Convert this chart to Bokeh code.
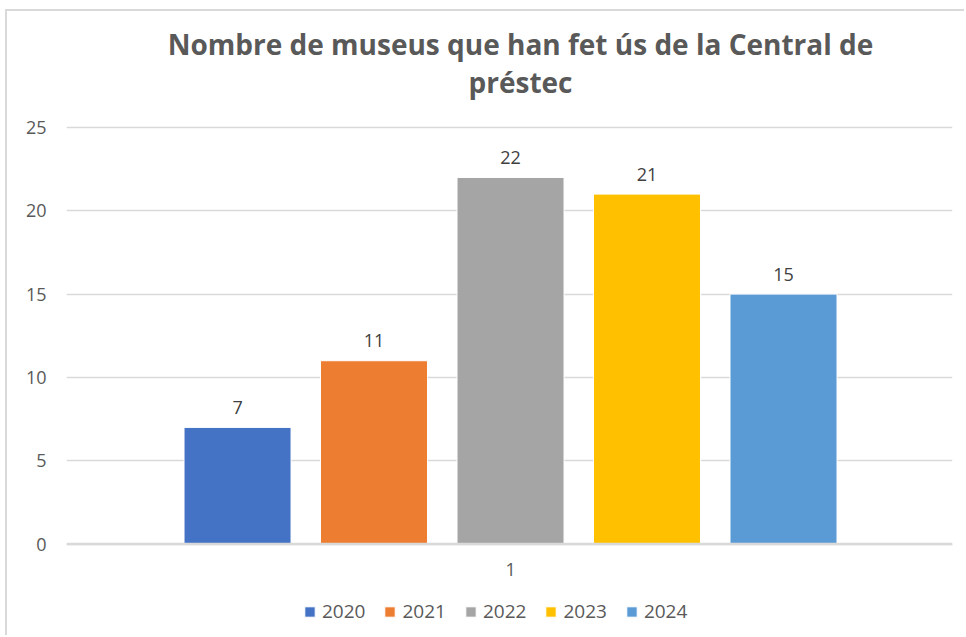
from bokeh.plotting import figure
from bokeh.models import (Range1d, Legend, LegendItem, ColumnDataSource, FixedTicker,
                          Label, Span)
from bokeh.core.properties import value
from bokeh.embed import file_html
from bokeh.resources import INLINE

title_line1 = "Nombre de museus que han fet ús de la Central de"
title_line2 = "préstec"
years = ["2020", "2021", "2022", "2023", "2024"]
values = [7, 11, 22, 21, 15]
colors = ["#4472C4", "#ED7D31", "#A5A5A5", "#FFC000", "#5B9BD5"]
category_label = "1"
y_ticks = [0, 5, 10, 15, 20, 25]

xs = list(range(len(years)))
src = ColumnDataSource(dict(
    x=xs,
    top=values,
    year=years,
    color=colors,
    label=[str(v) for v in values],
))
cat_src = ColumnDataSource(dict(x=[sum(xs) / len(xs)], y=[0], label=[category_label]))

FONT = "Open Sans"
GRID = "#d9d9d9"
TXT = "#595959"

# the plot frame spans the whole canvas height; ticks/grid are limited to 0..25
p = figure(width=959, height=626, output_backend="svg", toolbar_location=None,
           x_range=Range1d(-1.253, 5.238), y_range=Range1d(-5.61, 31.96),
           min_border_left=59, min_border_right=14, min_border_top=0,
           min_border_bottom=0)
p.title.visible = False
p.outline_line_color = None
p.styles = {"margin-left": "5px", "margin-top": "9px",
            "border-left": "2px solid #d9d9d9", "border-top": "2px solid #d9d9d9"}

r = p.vbar(x="x", top="top", bottom=0, width=0.784, fill_color="color",
           line_color="white", line_width=1, source=src)

p.text(x="x", y="top", text="label", source=src, text_align="center",
       text_baseline="alphabetic", y_offset=-20, text_font=value(FONT),
       text_font_size="18px", text_color="#404040")

# category label under the baseline
p.text(x="x", y="y", text="label", source=cat_src, text_align="center",
       text_baseline="middle", y_offset=25, text_font=value(FONT),
       text_font_size="18px", text_color=TXT)

# title, two centred lines
for txt, ypos in [(title_line1, 594), (title_line2, 556)]:
    p.add_layout(Label(x=454, y=ypos, x_units="screen", y_units="screen", text=txt,
                       text_align="center", text_baseline="middle", text_font=FONT,
                       text_font_style="bold", text_font_size="28px",
                       text_color=TXT))

# axes
p.xaxis.visible = False

p.yaxis.ticker = FixedTicker(ticks=y_ticks)
p.yaxis.axis_line_color = None
p.yaxis.major_tick_line_color = None
p.yaxis.minor_tick_line_color = None
p.yaxis.major_label_standoff = 14
p.yaxis.major_label_text_font = FONT
p.yaxis.major_label_text_font_size = "18px"
p.yaxis.major_label_text_color = TXT

p.xgrid.visible = False
p.ygrid.grid_line_color = GRID
p.ygrid.grid_line_width = 1.5
p.add_layout(Span(location=0, dimension="width", line_color=GRID, line_width=2.5))

legend = Legend(
    items=[LegendItem(label=y, renderers=[r], index=i) for i, y in enumerate(years)],
    orientation="horizontal", location=(237, 13),
    border_line_color=None, background_fill_alpha=0,
    label_text_font=FONT, label_text_font_size="19px", label_text_color=TXT,
    glyph_width=13, glyph_height=13, label_standoff=6, spacing=18,
    padding=0, margin=0,
)
p.add_layout(legend, "center")

open("out.html", "w").write(file_html(p, INLINE))
